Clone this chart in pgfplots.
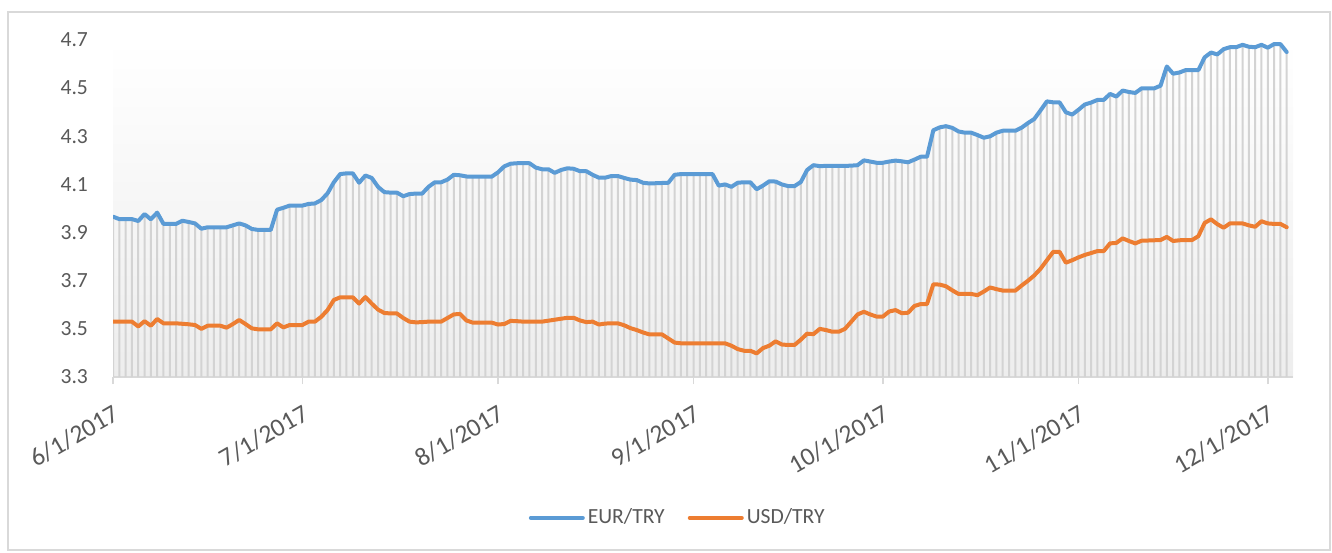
\documentclass[border=0pt]{standalone}
\usepackage{fontspec}
\setmainfont{Carlito}
\usepackage{pgfplots}
\pgfplotsset{compat=1.18}
\usepackage{pgfplotstable}
\definecolor{eur}{HTML}{5B9BD5}
\definecolor{usd}{HTML}{ED7D31}
\definecolor{txt}{HTML}{595959}
\definecolor{axgray}{HTML}{D9D9D9}
\definecolor{dropgray}{HTML}{D3D3D3}

\pgfplotstableread{
d eur usd
0 3.966 3.530
1 3.956 3.530
2 3.956 3.530
3 3.956 3.530
4 3.948 3.510
5 3.977 3.532
6 3.955 3.513
7 3.983 3.541
8 3.936 3.523
9 3.936 3.523
10 3.936 3.523
11 3.949 3.521
12 3.944 3.519
13 3.938 3.516
14 3.916 3.500
15 3.922 3.513
16 3.922 3.513
17 3.922 3.513
18 3.922 3.505
19 3.930 3.520
20 3.938 3.537
21 3.930 3.520
22 3.915 3.502
23 3.911 3.498
24 3.911 3.498
25 3.911 3.498
26 3.995 3.523
27 4.003 3.506
28 4.012 3.516
29 4.012 3.516
30 4.012 3.516
31 4.019 3.530
32 4.021 3.530
33 4.035 3.550
34 4.063 3.578
35 4.109 3.620
36 4.143 3.631
37 4.146 3.631
38 4.146 3.631
39 4.107 3.605
40 4.137 3.632
41 4.127 3.605
42 4.090 3.580
43 4.068 3.566
44 4.066 3.564
45 4.066 3.564
46 4.051 3.545
47 4.060 3.530
48 4.062 3.527
49 4.062 3.528
50 4.090 3.530
51 4.109 3.530
52 4.109 3.530
53 4.120 3.545
54 4.140 3.560
55 4.138 3.562
56 4.133 3.535
57 4.132 3.526
58 4.132 3.526
59 4.132 3.526
60 4.132 3.526
61 4.150 3.518
62 4.175 3.520
63 4.186 3.533
64 4.188 3.532
65 4.188 3.530
66 4.188 3.530
67 4.170 3.530
68 4.163 3.530
69 4.163 3.534
70 4.148 3.538
71 4.160 3.542
72 4.167 3.546
73 4.165 3.546
74 4.155 3.535
75 4.155 3.528
76 4.140 3.530
77 4.128 3.518
78 4.128 3.522
79 4.135 3.523
80 4.135 3.523
81 4.127 3.515
82 4.120 3.503
83 4.118 3.495
84 4.107 3.485
85 4.104 3.477
86 4.105 3.477
87 4.106 3.477
88 4.107 3.460
89 4.140 3.443
90 4.143 3.440
91 4.143 3.440
92 4.143 3.440
93 4.143 3.440
94 4.143 3.440
95 4.143 3.440
96 4.095 3.440
97 4.100 3.440
98 4.090 3.430
99 4.107 3.416
100 4.109 3.409
101 4.109 3.409
102 4.080 3.398
103 4.095 3.420
104 4.113 3.430
105 4.112 3.448
106 4.100 3.435
107 4.093 3.433
108 4.093 3.433
109 4.110 3.455
110 4.160 3.480
111 4.180 3.478
112 4.176 3.500
113 4.177 3.495
114 4.177 3.488
115 4.177 3.488
116 4.177 3.500
117 4.178 3.530
118 4.180 3.560
119 4.200 3.571
120 4.195 3.560
121 4.190 3.551
122 4.190 3.551
123 4.195 3.572
124 4.199 3.578
125 4.196 3.565
126 4.192 3.567
127 4.203 3.595
128 4.215 3.603
129 4.215 3.603
130 4.325 3.685
131 4.337 3.684
132 4.342 3.677
133 4.335 3.660
134 4.320 3.645
135 4.315 3.645
136 4.315 3.645
137 4.305 3.640
138 4.294 3.655
139 4.300 3.672
140 4.315 3.665
141 4.323 3.659
142 4.323 3.659
143 4.323 3.659
144 4.336 3.680
145 4.355 3.700
146 4.372 3.722
147 4.408 3.750
148 4.445 3.785
149 4.441 3.820
150 4.441 3.820
151 4.400 3.775
152 4.390 3.785
153 4.410 3.797
154 4.432 3.807
155 4.440 3.815
156 4.451 3.823
157 4.451 3.823
158 4.476 3.855
159 4.465 3.857
160 4.490 3.876
161 4.484 3.865
162 4.480 3.855
163 4.499 3.866
164 4.499 3.867
165 4.499 3.868
166 4.510 3.869
167 4.590 3.882
168 4.560 3.865
169 4.565 3.868
170 4.575 3.869
171 4.575 3.869
172 4.575 3.885
173 4.628 3.940
174 4.648 3.955
175 4.640 3.935
176 4.662 3.920
177 4.670 3.938
178 4.670 3.938
179 4.680 3.938
180 4.672 3.930
181 4.670 3.924
182 4.680 3.947
183 4.668 3.938
184 4.683 3.936
185 4.683 3.936
186 4.650 3.922
}\data

\begin{document}
\begin{tikzpicture}
\useasboundingbox (0,0) rectangle (666pt,276pt);
\draw[axgray, line width=0.6pt] (4pt,1pt) rectangle (665pt,270pt);
\begin{axis}[
  at={(56.5pt,87.5pt)}, anchor=south west,
  scale only axis, width=590pt, height=168.5pt,
  xmin=0, xmax=187, ymin=3.3, ymax=4.7,
  axis background/.style={shade, top color=white, bottom color=black!7},
  axis x line*=bottom, axis y line*=left,
  separate axis lines,
  x axis line style={draw=axgray, line width=0.8pt, -},
  y axis line style={draw=none},
  xtick={0,30,61,92,122,153,183},
  xticklabels={6/1/2017,7/1/2017,8/1/2017,9/1/2017,10/1/2017,11/1/2017,12/1/2017},
  xtick align=outside,
  major tick length=3.5pt,
  x tick style={draw=axgray, line width=0.8pt},
  ytick={3.3,3.5,...,4.71},
  y tick style={draw=none},
  /pgf/number format/assume math mode=true,
  yticklabel={\pgfmathprintnumber[fixed,fixed zerofill,precision=1]{\tick}},
  tick label style={text=txt},
  yticklabel style={xshift=-9pt, font=\fontsize{10.8}{13}\selectfont},
  xticklabel style={rotate=30, anchor=north east, inner sep=1pt, yshift=-7pt, xshift=-4pt,
    font=\fontsize{12.8}{15}\selectfont},
  legend style={at={(0.479,-0.418)}, anchor=center, draw=none, fill=none,
    font=\fontsize{10.8}{13}\selectfont, text=txt,
    /tikz/every even column/.append style={column sep=10pt},
    nodes={inner sep=1.5pt}},
  legend columns=2,
  legend image code/.code={\draw[#1, line width=2pt, line cap=round] (0pt,0pt) -- (26pt,0pt);},
  clip=true,
]
\addplot[ybar, bar width=1pt, fill=dropgray, draw=none, forget plot] table[x=d, y=eur] {\data};
\addplot[eur, line width=2pt, line join=round, line cap=round] table[x=d, y=eur] {\data};
\addlegendentry{EUR/TRY}
\addplot[usd, line width=2pt, line join=round, line cap=round] table[x=d, y=usd] {\data};
\addlegendentry{USD/TRY}
\end{axis}
\end{tikzpicture}
\end{document}
